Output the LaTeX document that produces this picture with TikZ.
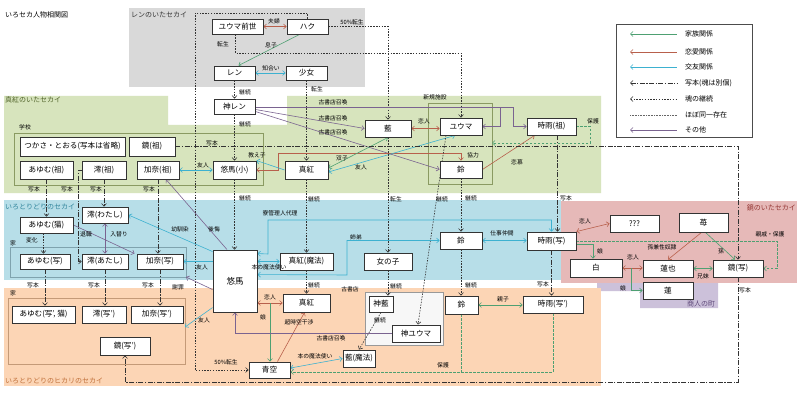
\documentclass[tikz,border=0pt]{standalone}
\usepackage{fontspec}
\setmainfont{Noto Sans CJK JP}
\usetikzlibrary{arrows.meta}
\definecolor{bggray}{HTML}{D9D9D9}
\definecolor{bggreen}{HTML}{D7E4BD}
\definecolor{bgblue}{HTML}{B7DEE8}
\definecolor{bgpink}{HTML}{E6B9B8}
\definecolor{bgorange}{HTML}{FCD5B5}
\definecolor{bgpurple}{HTML}{CCC1DA}
\definecolor{famc}{HTML}{4EA072}
\definecolor{lovec}{HTML}{B8604C}
\definecolor{fric}{HTML}{3DB1D0}
\definecolor{othc}{HTML}{7A6390}
\definecolor{frmgreen}{HTML}{8A9A62}
\definecolor{frmblue}{HTML}{7FA3AE}
\definecolor{frmorange}{HTML}{C49A78}
\definecolor{txtblue}{HTML}{31859C}
\definecolor{txtred}{HTML}{953735}
\definecolor{txtorange}{HTML}{C0703A}
\definecolor{txtpurple}{HTML}{604A7B}
\definecolor{txtgreen}{HTML}{4F6228}
\newcommand{\nodefnt}{\fontsize{7.6}{8}\selectfont}
\newcommand{\labfnt}{\fontsize{5.8}{6}\selectfont}
\newcommand{\regfnt}{\fontsize{7}{8}\selectfont}
\pgfdeclarelayer{bg}
\pgfdeclarelayer{mid}
\pgfsetlayers{bg,mid,main}
\tikzset{
  box/.style={draw=black!80, fill=white, line width=0.9pt, inner sep=0pt, font=\nodefnt},
  lab/.style={font=\labfnt, inner sep=0.5pt},
  reg/.style={font=\regfnt, inner sep=0pt},
  fam/.style={draw=famc, line width=0.6pt},
  love/.style={draw=lovec, line width=0.6pt},
  fri/.style={draw=fric, line width=0.6pt},
  oth/.style={draw=othc, line width=0.6pt},
  cpy/.style={draw=black!80, line width=0.6pt, dash pattern=on 5pt off 1.5pt on 1.2pt off 1.5pt},
  soul/.style={draw=black!80, line width=0.6pt, dash pattern=on 1.5pt off 1.3pt},
  samestyle/.style={draw=black!60, line width=0.6pt, dash pattern=on 0.8pt off 0.8pt},
  famdash/.style={draw=famc, line width=0.6pt, dash pattern=on 2.5pt off 1.5pt},
}
\newcommand{\mybox}[6]{\node[box, minimum width={#4-#2}, minimum height={#5-#3}] (#1) at ({(#2+#4)/2},{(#3+#5)/2}) {#6};}
\begin{document}
\begin{tikzpicture}[x=1pt,y=-1pt, >={Straight Barb[length=2.6pt,width=5pt]}]
\useasboundingbox (0,0) rectangle (800,401);
\begin{pgfonlayer}{bg}
\fill[white] (0,0) rectangle (800,401);
\fill[bggray] (129,8) rectangle (365,87);
\fill[bggreen] (4,96) -- (168,96) -- (168,125) -- (287,125) -- (287,96) -- (601,96) -- (601,193) -- (4,193) -- cycle;
\fill[bgblue] (4,200) rectangle (561,280);
\fill[bgpink] (561,201) rectangle (797,283);
\fill[bgpurple] (597,283) -- (718,283) -- (718,308) -- (640,308) -- (640,291) -- (597,291) -- cycle;
\fill[bgorange] (4,288) rectangle (601,386);
\draw[frmgreen, line width=0.6pt] (14,133) rectangle (263,185);
\draw[frmgreen, line width=0.6pt] (428,103) rectangle (492,184);
\draw[frmblue, line width=0.6pt] (10,247) rectangle (186,277);
\draw[frmorange, line width=0.6pt] (8,298) rectangle (185,364);
\draw[black!40, fill=black!3, line width=0.6pt] (365,292) rectangle (443,345);
\end{pgfonlayer}

% region labels
\node[reg, anchor=west] (title) at (5,15) {いろセカ人物相関図};
\node[reg, anchor=west, text=black!80] (tren) at (131,15) {レンのいたセカイ};
\node[reg, anchor=west, text=txtgreen] (tshinku) at (5,100) {真紅のいたセカイ};
\node[reg, anchor=west, text=txtblue] (tiro) at (5,207) {いろとりどりのセカイ};
\node[reg, anchor=east, text=txtred] (tkagami) at (796,208) {鏡のいたセカイ};
\node[reg, anchor=west, text=txtorange] (thikari) at (5,381) {いろとりどりのヒカリのセカイ};
\node[reg, text=txtpurple] (tshonin) at (701,304) {商人の町};
\node[lab] (tschool) at (25,127) {学校};
\node[lab] (tshinki) at (435,97) {新規施設};
\node[lab] (tie1) at (13,243) {家};
\node[lab] (tie2) at (13,293) {家};
\node[lab] (tkosho) at (350,289) {古書店};

% nodes
\mybox{yumazen}{212}{19}{263}{34}{ユウマ前世}
\mybox{haku}{287}{19}{328}{34}{ハク}
\mybox{ren}{214}{66}{255}{80}{レン}
\mybox{shojo}{286}{66}{327}{80}{少女}
\mybox{kamiren}{214}{99}{255}{114}{神レン}
\mybox{tsukasa}{20}{137}{125}{156}{つかさ・とおる(写本は省略)}
\mybox{kagamiso}{129}{137}{175}{156}{鏡(祖)}
\mybox{ayumuso}{20}{161}{73}{179}{あゆむ(祖)}
\mybox{mioso}{82}{161}{126}{179}{澪(祖)}
\mybox{kanaso}{137}{161}{179}{179}{加奈(祖)}
\mybox{yumasho}{213}{161}{256}{179}{悠馬(小)}
\mybox{shinku}{285}{161}{328}{179}{真紅}
\mybox{ai}{365}{120}{411}{137}{藍}
\mybox{yuma}{440}{118}{482}{135}{ユウマ}
\mybox{shigureso}{527}{118}{576}{135}{時雨(祖)}
\mybox{suzua}{440}{161}{482}{178}{鈴}
\mybox{miowata}{82}{207}{128}{223}{澪(わたし)}
\mybox{ayuneko}{20}{217}{73}{233}{あゆむ(猫)}
\mybox{ayusha}{20}{254}{70}{269}{あゆむ(写)}
\mybox{mioata}{82}{254}{128}{269}{澪(あたし)}
\mybox{kanasha}{137}{254}{183}{269}{加奈(写)}
\node[box, minimum width=44, minimum height=62, font=\fontsize{8.5}{9}\selectfont] (yuuma) at (235,281) {悠馬};
\mybox{shinkuma}{280}{253}{333}{270}{真紅(魔法)}
\mybox{onna}{364}{253}{412}{270}{女の子}
\mybox{suzub}{440}{232}{482}{249}{鈴}
\mybox{shigusha}{527}{232}{576}{250}{時雨(写)}
\mybox{qqq}{610}{215}{659}{232}{???}
\mybox{ichigo}{679}{213}{728}{232}{苺}
\mybox{shiro}{570}{259}{622}{277}{白}
\mybox{renya}{643}{260}{693}{277}{蓮也}
\mybox{kagamisha}{713}{260}{763}{277}{鏡(写)}
\mybox{renb}{643}{282}{693}{299}{蓮}
\mybox{ayushab}{12}{306}{75}{323}{あゆむ(写', 猫)}
\mybox{mioshab}{82}{306}{126}{323}{澪(写')}
\mybox{kanashab}{131}{306}{183}{323}{加奈(写')}
\mybox{kagamishab}{100}{337}{150}{355}{鏡(写')}
\mybox{shinkub}{283}{294}{330}{312}{真紅}
\mybox{aozora}{249}{362}{290}{378}{青空}
\mybox{kamiai}{369}{296}{393}{312}{神藍}
\mybox{aima}{343}{350}{375}{367}{藍(魔法)}
\mybox{kamiyuma}{392}{325}{440}{342}{神ユウマ}
\mybox{suzuc}{445}{296}{478}{314}{鈴}
\mybox{shigushab}{523}{296}{583}{313}{時雨(写')}

\coordinate (br1) at (500,107.5);
\coordinate (frmR) at (492,143);
\coordinate (musume1) at (270,303);
\coordinate (musume3) at (631,268);
\coordinate (ieB) at (186,277);
\coordinate (ieO) at (185,327);
\coordinate (hogoJ) at (461.5,372);

\begin{pgfonlayer}{mid}
% gray world
\draw[love,<->] (yumazen.east) -- (haku.west);
\draw[fam,->] ([xshift=-8pt]haku.south) -- ([xshift=4pt]ren.north);
\draw[fri,<->] (ren.east) -- (shojo.west);
\draw[soul,->] ([xshift=-2pt]yumazen.south) -- (235.5,53) -- (461,53) -- (yuma.north);
\draw[soul,->] (haku.east) -- (388,26.5) -- (ai.north);
\draw[soul,->] (haku.north) -- (307.5,13) -- (195,13) -- (195,370) -- (aozora.west);
\draw[soul,->] (ren.south) -- (kamiren.north);
\draw[soul,->] (shojo.south) -- (shinku.north);
\draw[soul,->] (kamiren.south) -- (yumasho.north);
\draw[soul,->] (yumasho.south) -- (yumasho.south |- yuuma.north);
% kamiren calls
\draw[oth,->] ([yshift=-1pt]kamiren.east) -- (513,107.5) -- (513,126.5) -- (shigureso.west);
\draw[oth,->] (br1) -- (500,126.5) -- (yuma.east);
\draw[oth,->] ([yshift=-3pt]kamiren.east) -- (ai.west);
\draw[oth,->] ([yshift=-5pt]kamiren.east) -- (suzua.west);
% green world
\draw[love,<->] (ai.east) -- (ai.east -| yuma.west);
\draw[famdash,->] (shigureso.east) -- (590,126.5) -- (590,143) -- (frmR);
\draw[love,->] (suzua.east) -- ([xshift=8pt]shigureso.south west);
\draw[love,<->] (yumasho.east) -- (278,170) -- (278,153) -- (461,153) -- (suzua.north);
\draw[fri,->] (shinku.west) -- (yumasho.north east);
\draw[fri,<->] (kanaso.east) -- (yumasho.west);
\draw[fam,<->] ([yshift=2pt]shinku.east) -- (ai.south);
\draw[fri,<->] ([yshift=-2pt]shinku.east) -- ([xshift=-6pt]yuma.south);
% copies
\draw[cpy,->] (kagamiso.east) -- (738,146.5) -- (kagamisha.north);
\draw[cpy,->] (kagamisha.south) -- (738,382) -- (125,382) -- (kagamishab.south);
\draw[cpy,->] ([xshift=6pt]shigureso.south) -- ([xshift=6pt]shigusha.north);
\draw[cpy,->] (shigusha.south) -- (shigusha.south |- shigushab.north);
\draw[cpy,->] (ayumuso.south) -- (ayumuso.south |- ayuneko.north);
\draw[cpy,->] (mioso.west) -- (78,170) -- (78,261.5) -- (mioata.west);
\draw[cpy,->] (mioso.south) -- (mioso.south |- miowata.north);
\draw[cpy,->] (kanaso.south) -- (kanaso.south |- kanasha.north);
\draw[cpy,->] (ayusha.south) -- (ayusha.south |- ayushab.north);
\draw[cpy,->] (mioata.south) -- (mioata.south |- mioshab.north);
\draw[cpy,->] (kanasha.south) -- (kanasha.south |- kanashab.north);
% soul continuation
\draw[soul,->] (suzua.south) -- (suzub.north);
\draw[soul,->] (suzub.south) -- (suzub.south |- suzuc.north);
\draw[soul,->] ([xshift=-15pt]yuma.south) -- ([xshift=2pt]kamiyuma.north);
\draw[soul,->] (ai.south) -- (ai.south |- onna.north);
\draw[soul,->] (shinku.south) -- (shinku.south |- shinkuma.north);
\draw[soul,->] (shinkuma.south) -- (shinkuma.south |- shinkub.north);
\draw[soul,->] (onna.south) -- (onna.south |- kamiai.north);
\draw[soul,->] (kamiai.south) -- (aima.north);
\draw[soul,->] ([xshift=-3pt]ayuneko.south) -- ([xshift=-3pt]ayuneko.south |- ayusha.north);
% blue world
\draw[fri,<->] (suzub.east) -- (suzub.east -| shigusha.west);
\draw[fri,<->] ([yshift=-4pt]yuuma.north east) -- (268,254) -- (268,220) -| (shigusha.north);
\draw[fri,<->] (yuuma.east |- shinkuma.west) -- (shinkuma.west);
\draw[fri,<->] ([yshift=-25pt]yuuma.north east) -- (347,275) -- (347,240.5) -- (suzub.west);
\draw[fri,->] ([yshift=-2pt]yuuma.north west) -- (miowata.east);
\draw[oth,->] ([xshift=-8pt]yuuma.north) -- ([xshift=8pt]kanaso.south);
\draw[fri,->] (yuuma.west |- kanasha.east) -- (kanasha.east);
\draw[oth,->] ([yshift=-40pt]yuuma.north west) -- (ieB);
\draw[fri,->] ([yshift=-58pt]yuuma.north west) -- (ieO);
\draw[oth,<->] (miowata.south) -- (miowata.south |- mioata.north);
\draw[oth,->] (ayuneko.east) -- ([xshift=-2pt]kanasha.north west);
% orange world
\draw[love,<->] (yuuma.east |- shinkub.west) -- (shinkub.west);
\draw[fam,->] (musume1) -- (musume1 |- aozora.north);
\draw[love,->] ([xshift=8pt]aozora.north) -- ([xshift=-2pt]shinkub.south);
\draw[oth,->] (kamiyuma.west) -- (kamiyuma.west -| yuuma.south) -- (yuuma.south);
\draw[fri,<->] ([yshift=2pt]aozora.east) -- (aima.west);
\draw[famdash,->] (shigushab.south) |- ([yshift=-2pt]aozora.east);
\draw[famdash] (suzuc.south) -- (hogoJ);
\draw[fam,<->] (suzuc.east) -- (suzuc.east -| shigushab.west);
% mirror world
\draw[love,<->] (qqq.west) -- (shigusha.north east);
\draw[famdash,->] (shigusha.east) -| (777,268.5) -- (kagamisha.east);
\draw[fam,->] ([yshift=-3pt]shigusha.east) -| ([xshift=-3pt]shiro.north);
\draw[love,<->] (shiro.east) -- (shiro.east -| renya.west);
\draw[fam,->] (musume3) |- (renb.west);
\draw[love,->] ([xshift=-2pt]ichigo.south) -- (renya.north);
\draw[fam,->] ([xshift=2pt]ichigo.south) -- ([xshift=-3pt]kagamisha.north);
\draw[fam,<->] (renya.east) -- (kagamisha.west);
\end{pgfonlayer}

% labels
\node[lab] (lfufu) at (274,21) {夫婦};
\node[lab] (lmusuko) at (271,45) {息子};
\node[lab] (lshiriai) at (271,68) {知合い};
\node[lab] (ltensei1) at (223,44) {転生};
\node[lab] (lhalf1) at (352,22) {50\%転生};
\node[lab] (lhalf2) at (226,362) {50\%転生};
\node[lab] (lk1) at (245,92) {継続};
\node[lab] (ltensei2) at (317,89) {転生};
\node[lab] (lk2) at (245,124) {継続};
\node[lab] (lk3) at (245,198) {継続};
\node[lab] (lko1) at (333,102) {古書店召喚};
\node[lab] (lko2) at (333,118) {古書店召喚};
\node[lab] (lko3) at (333,132) {古書店召喚};
\node[lab] (lkoi1) at (424,121) {恋人};
\node[lab] (lhogo1) at (593,121) {保護};
\node[lab] (lrenbo) at (517,162) {恋慕};
\node[lab] (lkyoryoku) at (473,155) {協力};
\node[lab] (loshiego) at (257,155) {教え子};
\node[lab] (lyujin1) at (203,165) {友人};
\node[lab] (lfutago) at (342,158) {双子};
\node[lab] (lyujin2) at (361,167) {友人};
\node[lab] (lsha1) at (212,143) {写本};
\node[lab] (lsha2) at (745,290) {写本};
\node[lab] (lsha3) at (566,198) {写本};
\node[lab] (lsha4) at (543,284) {写本};
\node[lab] (lsha5) at (34,189) {写本};
\node[lab] (lsha6) at (67,189) {写本};
\node[lab] (lsha7) at (96,189) {写本};
\node[lab] (lsha8) at (149,189) {写本};
\node[lab] (lsha9) at (33,285) {写本};
\node[lab] (lsha10) at (94,285) {写本};
\node[lab] (lsha11) at (148,285) {写本};
\node[lab] (lk4) at (471,198) {継続};
\node[lab] (lk5) at (471,285) {継続};
\node[lab] (lk6) at (442,199) {継続};
\node[lab] (ltensei3) at (396,199) {転生};
\node[lab] (lk7) at (314,199) {継続};
\node[lab] (lk8) at (314,285) {継続};
\node[lab] (lk9) at (396,286) {継続};
\node[lab] (lk10) at (380,320) {継続};
\node[lab] (lhenka) at (32,240) {変化};
\node[lab] (lshigoto) at (502,233) {仕事仲間};
\node[lab] (lryo) at (280,213) {寮管理人代理};
\node[lab] (lmahou1) at (269,267) {本の魔法使い};
\node[lab] (lkyodai) at (356,237) {姉弟};
\node[lab] (losana) at (180,229) {幼馴染};
\node[lab] (lkokai) at (214,229) {後悔};
\node[lab] (lyujin3) at (202,267) {友人};
\node[lab] (lshazai) at (178,287) {謝罪};
\node[lab] (lyujin4) at (204,320) {友人};
\node[lab] (lirekawari) at (119,234) {入替り};
\node[lab] (ltaishoku) at (86,234) {退職};
\node[lab] (lkoi2) at (270,297) {恋人};
\node[lab] (lmusume1) at (263,317) {娘};
\node[lab] (lchoji) at (299,322) {超時空干渉};
\node[lab] (lko4) at (331,338) {古書店召喚};
\node[lab] (lmahou2) at (315,356) {本の魔法使い};
\node[lab] (lhogo2) at (443,365) {保護};
\node[lab] (loyako) at (503,299) {親子};
\node[lab] (lkoi3) at (585,221) {恋人};
\node[lab] (lshinseki) at (770,234) {親戚・保護};
\node[lab] (lmusume2) at (600,251) {娘};
\node[lab] (lkoi4) at (633,257) {恋人};
\node[lab] (lmusume3) at (623,288) {娘};
\node[lab] (lmago1) at (662,247) {孫兼性奴隷};
\node[lab] (lmago2) at (721,251) {孫};
\node[lab] (lkyodai2) at (703,276) {兄妹};

% legend
\node[draw=black!70, fill=white, line width=0.8pt, minimum width=136, minimum height=113, inner sep=0pt] (legend) at (684,80.5) {};
\foreach \i/\yy/\st/\tx in {1/34/fam/家族関係, 2/52/love/恋愛関係, 3/67/fri/交友関係, 4/83/cpy/写本(魂は別個), 5/99/soul/魂の継続, 7/130/oth/その他}{
  \coordinate (lga\i) at (630,\yy);
  \coordinate (lgb\i) at (677,\yy);
  \draw[\st,<-] (lga\i) -- (lgb\i);
  \node[reg, anchor=west] (lgt\i) at (685,\yy) {\tx};
}
\coordinate (lga6) at (630,115);
\coordinate (lgb6) at (677,115);
\draw[samestyle] (lga6) -- (lgb6);
\node[reg, anchor=west] (lgt6) at (685,115) {ほぼ同一存在};
\end{tikzpicture}
\end{document}
